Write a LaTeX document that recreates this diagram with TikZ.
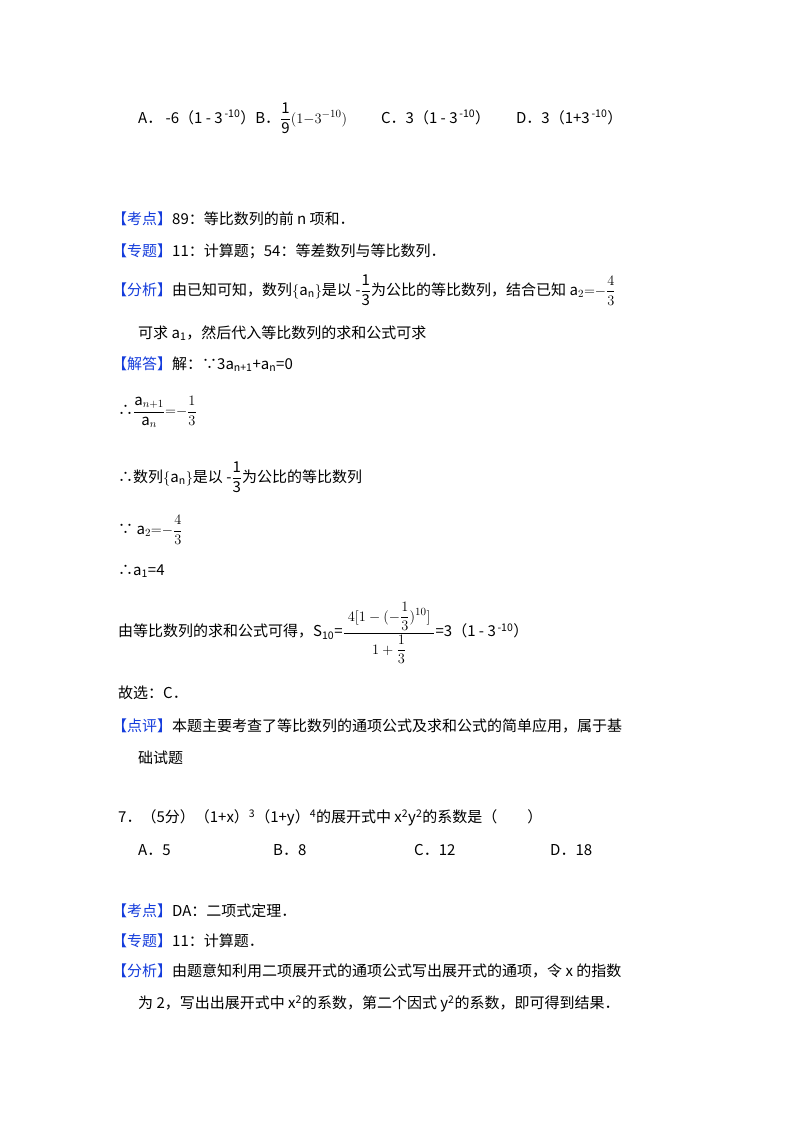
\documentclass[tikz,border=0pt]{standalone}
\usepackage{amsmath}
\usepackage{fontspec}
\setmainfont{Noto Sans CJK SC}
\definecolor{kblue}{RGB}{20,60,220}
\newcommand{\kw}[1]{\textcolor{kblue}{【#1】}}
\newcommand{\fr}[2]{\ensuremath{\dfrac{\mathrm{#1}}{\mathrm{#2}}}}
\begin{document}
\begin{tikzpicture}[x=1pt,y=-1pt,every node/.style={anchor=west,inner sep=0pt,font=\fontsize{15}{18}\selectfont}]
\useasboundingbox[fill=white] (0,0) rectangle (800,1132);
\node (o1) at (138,118) {A．\ -6（1 - 3\textsuperscript{\,-10}）B．\fr{1}{9}$(1{-}3^{-10})$\hspace{34pt}C．3（1 - 3\textsuperscript{\,-10}）\hspace{26pt}D．3（1+3\textsuperscript{\,-10}）};
\node (k1) at (112,219) {\kw{考点}89：等比数列的前 n 项和．};
\node (z1) at (112,251) {\kw{专题}11：计算题；54：等差数列与等比数列．};
\node (f1) at (112,290) {\kw{分析}由已知可知，数列$\{$a\textsubscript{n}$\}$是以 -\fr{1}{3}为公比的等比数列，结合已知 $\mathrm{a}_2{=}{-}\dfrac{4}{3}$};
\node (f2) at (138,333) {可求 a\textsubscript{1}，然后代入等比数列的求和公式可求};
\node (j1) at (112,364) {\kw{解答}解：∵3a\textsubscript{n+1}+a\textsubscript{n}=0};
\node (j2) at (118,412) {∴$\dfrac{\mathrm{a}_{n+1}}{\mathrm{a}_n}{=}{-}\dfrac{1}{3}$};
\node (j3) at (118,477) {∴数列$\{$a\textsubscript{n}$\}$是以 -\fr{1}{3}为公比的等比数列};
\node (j4) at (118,530) {∵ $\mathrm{a}_2{=}{-}\dfrac{4}{3}$};
\node (j5) at (118,571) {∴a\textsubscript{1}=4};
\node (j6) at (118,633) {由等比数列的求和公式可得，S\textsubscript{10}=$\dfrac{\;4[1-(-\dfrac{1}{3})^{10}]\;}{1+\dfrac{1}{3}}$=3（1 - 3\textsuperscript{\,-10}）};
\node (j7) at (118,693) {故选：C．};
\node (d1) at (112,726) {\kw{点评}本题主要考查了等比数列的通项公式及求和公式的简单应用，属于基};
\node (d2) at (138,758) {础试题};
\node (q7) at (118,818) {7．（5分）（1+x）\textsuperscript{3}（1+y）\textsuperscript{4}的展开式中 x\textsuperscript{2}y\textsuperscript{2}的系数是（\qquad）};
\node (qa) at (138,850) {A．5};
\node (qb) at (273,850) {B．8};
\node (qc) at (414,850) {C．12};
\node (qd) at (550,850) {D．18};
\node (k2) at (112,911) {\kw{考点}DA：二项式定理．};
\node (z2) at (112,941) {\kw{专题}11：计算题．};
\node (f3) at (112,971) {\kw{分析}由题意知利用二项展开式的通项公式写出展开式的通项，令 x 的指数};
\node (f4) at (138,1004) {为 2，写出出展开式中 x\textsuperscript{2}的系数，第二个因式 y\textsuperscript{2}的系数，即可得到结果．};
\end{tikzpicture}
\end{document}
